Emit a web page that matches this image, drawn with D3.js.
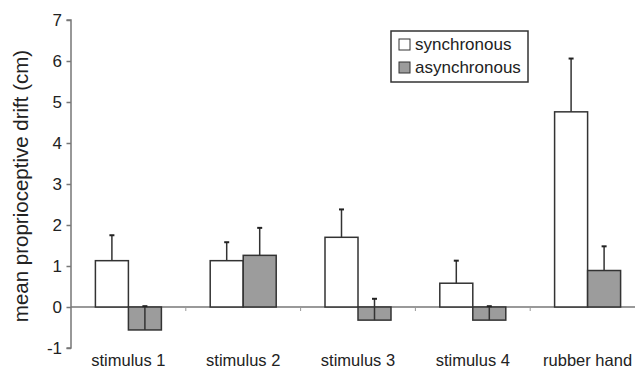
<!DOCTYPE html>
<html>
<head>
<meta charset="utf-8">
<script src="https://cdn.jsdelivr.net/npm/d3@7"></script>
<style>
  body { margin: 0; background: #fff; }
  svg { display: block; font-family: "Liberation Sans", Arial, sans-serif; }
</style>
</head>
<body>
<div id="chart"></div>
<script>
// data
const categories = ['stimulus 1', 'stimulus 2', 'stimulus 3', 'stimulus 4', 'rubber hand'];
const seriesNames = ['synchronous', 'asynchronous'];
const syncValues = [1.13, 1.13, 1.70, 0.58, 4.76];
const syncErrors = [0.62, 0.45, 0.68, 0.55, 1.30];
const asyncValues = [-0.56, 1.26, -0.32, -0.32, 0.89];
const asyncErrors = [0.58, 0.67, 0.52, 0.34, 0.59];
const yTicks = [-1, 0, 1, 2, 3, 4, 5, 6, 7];

const width = 635;
const height = 369;
const fills = ['#ffffff', '#9c9c9c'];
const barW = 33;

const svg = d3.select('#chart')
    .append('svg')
    .attr('width', width)
    .attr('height', height);

const x = d3.scaleBand()
    .domain(categories)
    .range([71, 645])
    .padding(0);

const y = d3.scaleLinear()
    .domain([-1, 7])
    .range([348, 20]);

const series = [
    { name: seriesNames[0], values: syncValues, errors: syncErrors },
    { name: seriesNames[1], values: asyncValues, errors: asyncErrors }
];

// y axis
const yAxis = svg.append('g')
    .attr('transform', 'translate(71,0)')
    .call(d3.axisLeft(y).tickValues(yTicks).tickSize(4.5).tickPadding(4.5).tickFormat(d => String(d)));
yAxis.select('.domain').attr('stroke', '#777').attr('stroke-width', 1.5).attr('d', `M-4.5,${y(7)}H0V${y(-1)}H-4.5`);
yAxis.selectAll('.tick line').attr('stroke', '#777').attr('stroke-width', 1.5);
yAxis.selectAll('.tick text')
    .attr('font-size', 17)
    .attr('fill', '#222');

// zero line with small separators
svg.append('line')
    .attr('x1', 71).attr('x2', width)
    .attr('y1', y(0)).attr('y2', y(0))
    .attr('stroke', '#777').attr('stroke-width', 1.5);
svg.append('g')
    .selectAll('line')
    .data(categories.slice(1))
    .join('line')
    .attr('x1', d => x(d)).attr('x2', d => x(d))
    .attr('y1', y(0)).attr('y2', y(0) + 4)
    .attr('stroke', '#999').attr('stroke-width', 1);

// bars
series.forEach((s, si) => {
    const g = svg.append('g');
    const xOf = (d, i) => x(categories[i]) + x.bandwidth() / 2 + (si - 1) * barW;

    g.selectAll('rect')
        .data(s.values)
        .join('rect')
        .attr('x', (d, i) => xOf(d, i))
        .attr('y', d => y(Math.max(0, d)))
        .attr('width', barW)
        .attr('height', d => Math.abs(y(d) - y(0)))
        .attr('fill', fills[si])
        .attr('stroke', '#333')
        .attr('stroke-width', 1.5);

    // plus error bars
    const eb = g.selectAll('g.err')
        .data(s.values.map((v, i) => ({ v, e: s.errors[i], i })))
        .join('g');
    eb.append('line')
        .attr('x1', d => xOf(d, d.i) + barW / 2)
        .attr('x2', d => xOf(d, d.i) + barW / 2)
        .attr('y1', d => y(d.v))
        .attr('y2', d => y(d.v + d.e))
        .attr('stroke', '#333').attr('stroke-width', 1.5);
    eb.append('line')
        .attr('x1', d => xOf(d, d.i) + barW / 2 - 2.5)
        .attr('x2', d => xOf(d, d.i) + barW / 2 + 2.5)
        .attr('y1', d => y(d.v + d.e))
        .attr('y2', d => y(d.v + d.e))
        .attr('stroke', '#222').attr('stroke-width', 2);
});

// category labels
svg.append('g')
    .selectAll('text')
    .data(categories)
    .join('text')
    .attr('x', d => x(d) + x.bandwidth() / 2)
    .attr('y', 366)
    .attr('text-anchor', 'middle')
    .attr('font-size', 16.5)
    .attr('fill', '#222')
    .text(d => d);

// y axis title
svg.append('text')
    .attr('transform', 'translate(28,186) rotate(-90)')
    .attr('text-anchor', 'middle')
    .attr('font-size', 20.5)
    .attr('fill', '#222')
    .text('mean proprioceptive drift (cm)');

// legend
const legend = svg.append('g').attr('transform', 'translate(391,31)');
legend.append('rect')
    .attr('width', 137).attr('height', 51)
    .attr('fill', '#fff').attr('stroke', '#333').attr('stroke-width', 1.5);
const items = legend.selectAll('g.item')
    .data(seriesNames)
    .join('g')
    .attr('transform', (d, i) => `translate(8,${8 + i * 23})`);
items.append('rect')
    .attr('width', 11).attr('height', 11)
    .attr('fill', (d, i) => fills[i])
    .attr('stroke', '#333').attr('stroke-width', 1);
items.append('text')
    .attr('x', 16).attr('y', 11)
    .attr('font-size', 17)
    .attr('fill', '#222')
    .text(d => d);
</script>
</body>
</html>
